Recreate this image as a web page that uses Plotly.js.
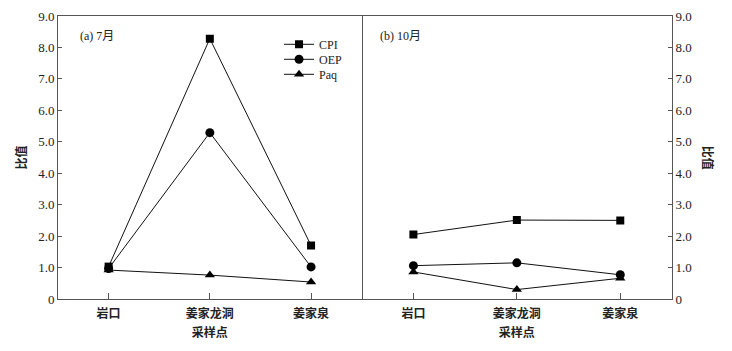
<!DOCTYPE html>
<html>
<head>
<meta charset="utf-8">
<script src="https://cdn.plot.ly/plotly-3.0.1.min.js"></script>
<style>html,body{margin:0;padding:0;background:#fff;}#chart{width:732px;height:351px;}</style>
</head>
<body>
<div id="chart"></div>
<script>
const sites = ["岩口", "姜家龙洞", "姜家泉"];
const seriesNames = ["CPI", "OEP", "Paq"];
// (a) July
const julCPI = [1.03, 8.28, 1.70];
const julOEP = [0.97, 5.29, 1.02];
const julPaq = [0.92, 0.76, 0.54];
// (b) October
const octCPI = [2.05, 2.51, 2.50];
const octOEP = [1.06, 1.15, 0.77];
const octPaq = [0.86, 0.30, 0.66];
const yTickVals = [0, 1, 2, 3, 4, 5, 6, 7, 8, 9];
const yTickText = ["0", "1.0", "2.0", "3.0", "4.0", "5.0", "6.0", "7.0", "8.0", "9.0"];
const panelLabels = ["(a) 7月", "(b) 10月"];
const yTitle = "比值";
const xTitle = "采样点";

const symbols = ["square", "circle", "triangle-up"];
const sizes = [8, 9, 9];
const legendIds = ["legend", "legend2", "legend3"];
const legendY = [0.900, 0.847, 0.794];
const serif = "'Liberation Serif', 'Times New Roman', 'Noto Sans CJK SC', serif";
const cjk = "'Noto Sans CJK SC', 'Liberation Serif', serif";

function mk(y, i, xa, ya, show) {
  return {
    x: sites, y: y, type: "scatter", mode: "lines+markers",
    name: seriesNames[i], showlegend: show, legend: legendIds[i],
    xaxis: xa, yaxis: ya,
    line: {color: "#111", width: 1},
    marker: {symbol: symbols[i], size: sizes[i], color: "#000"}
  };
}
const data = [
  mk(julCPI, 0, "x", "y", true), mk(julOEP, 1, "x", "y", true), mk(julPaq, 2, "x", "y", true),
  mk(octCPI, 0, "x2", "y2", false), mk(octOEP, 1, "x2", "y2", false), mk(octPaq, 2, "x2", "y2", false)
];

const axisLine = {showline: true, linecolor: "#555", linewidth: 1, zeroline: false, showgrid: false};
const xcommon = Object.assign({}, axisLine, {
  mirror: true,
  type: "category", range: [-0.5, 2.5], ticks: "inside", ticklen: 6, tickcolor: "#555",
  ticklabelstandoff: 4,
  tickfont: {family: cjk, size: 12, color: "#222", weight: "bold"},
  title: {text: xTitle, font: {family: cjk, size: 12, color: "#222", weight: "bold"}, standoff: 8}
});
const ycommon = Object.assign({}, axisLine, {
  range: [0, 9], tickvals: yTickVals, ticktext: yTickText, ticks: "inside", ticklen: 4, tickcolor: "#555",
  tickfont: {family: serif, size: 13, color: "#222"}
});
const split = 0.4946;
const layout = {
  width: 732, height: 351,
  margin: {l: 58, r: 60, t: 16, b: 52},
  paper_bgcolor: "#fff", plot_bgcolor: "#fff",
  xaxis: Object.assign({}, xcommon, {domain: [0, split], anchor: "y"}),
  xaxis2: Object.assign({}, xcommon, {domain: [split, 1], anchor: "y2"}),
  yaxis: Object.assign({}, ycommon, {anchor: "x", mirror: true,
    title: {text: yTitle, font: {family: cjk, size: 12, color: "#222", weight: "bold"}, standoff: 8}}),
  yaxis2: Object.assign({}, ycommon, {anchor: "x2", side: "right", mirror: false}),
  showlegend: true,
  annotations: [
    {text: panelLabels[0], xref: "paper", yref: "paper", x: 0.032, y: 0.93, xanchor: "left", yanchor: "middle",
     showarrow: false, font: {family: serif, size: 12, color: "#222"}},
    {text: panelLabels[1], xref: "paper", yref: "paper", x: split + 0.027, y: 0.93, xanchor: "left", yanchor: "middle",
     showarrow: false, font: {family: serif, size: 12, color: "#222"}},
    {text: "<b>" + yTitle + "</b>", xref: "paper", yref: "paper", x: 1.06, y: 0.5, textangle: 90,
     xanchor: "center", yanchor: "middle", showarrow: false, font: {family: cjk, size: 12, color: "#222"}}
  ]
};
legendIds.forEach((id, i) => {
  layout[id] = {x: 0.36, y: legendY[i], xanchor: "left", yanchor: "middle", bgcolor: "rgba(0,0,0,0)",
    font: {family: serif, size: 12, color: "#222"}, itemwidth: 30, borderwidth: 0};
});
Plotly.newPlot("chart", data, layout, {staticPlot: true, displayModeBar: false});
</script>
</body>
</html>
